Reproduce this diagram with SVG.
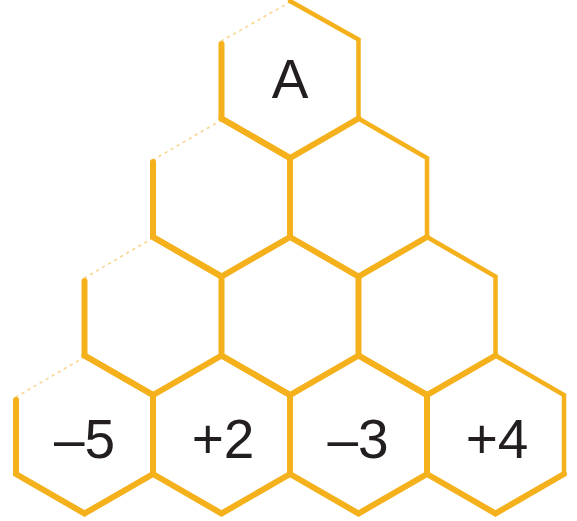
<svg xmlns="http://www.w3.org/2000/svg" width="577" height="521" viewBox="0 0 577 521">
<style>
.edge{fill:none;stroke:#F4B11C;stroke-width:6;stroke-linejoin:miter;stroke-linecap:round}
.thin{fill:none;stroke:#F4B11C;stroke-width:4.5;stroke-linecap:round}
.faint{fill:none;stroke:#F7CB72;stroke-width:1.6;stroke-dasharray:2 5;stroke-linecap:round;opacity:0.8}
.lbl{font-family:"Liberation Sans",Arial,Helvetica,sans-serif;font-size:55px;fill:#231F20;text-anchor:middle}
</style>
<rect width="577" height="521" fill="#ffffff"/>
<g id="edges">
<path class="faint" d="M221.5,41 L290,2"/>
<path class="faint" d="M153,160 L221.5,120"/>
<path class="faint" d="M84.5,278 L153,238"/>
<path class="faint" d="M16,397 L84.5,357"/>
</g>
<g id="hex-top">
<path class="edge" d="M221.5,44 L221.5,118.5 L290,158 L358.5,118.5"/>
<path class="thin" d="M290,1 L358.5,39.5 L358.5,118.5"/>
<text class="lbl" x="290" y="98">A</text>
</g>
<g id="hex-r2-1">
<path class="edge" d="M153,162 L153,237 L221.5,276.5 L290,237 L290,158 L221.5,118.5"/>
</g>
<g id="hex-r2-2">
<path class="edge" d="M290,237 L358.5,276.5 L427,237"/>
<path class="thin" d="M358.5,118.5 L427,158 L427,237"/>
</g>
<g id="hex-r3-1">
<path class="edge" d="M84.5,281 L84.5,355.5 L153,395 L221.5,355.5 L221.5,276.5 L153,237"/>
</g>
<g id="hex-r3-2">
<path class="edge" d="M221.5,355.5 L290,395 L358.5,355.5 L358.5,276.5"/>
</g>
<g id="hex-r3-3">
<path class="edge" d="M358.5,355.5 L427,395 L495.5,355.5"/>
<path class="thin" d="M427,237 L495.5,276.5 L495.5,355.5"/>
</g>
<g id="hex-b1">
<path class="edge" d="M16,400 L16,474 L84.5,513.5 L153,474 L153,395 L84.5,355.5"/>
<text class="lbl" x="84.5" y="458">–5</text>
</g>
<g id="hex-b2">
<path class="edge" d="M153,474 L221.5,513.5 L290,474 L290,395 L221.5,355.5"/>
<text class="lbl" x="223" y="458">+2</text>
</g>
<g id="hex-b3">
<path class="edge" d="M290,474 L358.5,513.5 L427,474 L427,395 L358.5,355.5"/>
<text class="lbl" x="358" y="458">–3</text>
</g>
<g id="hex-b4">
<path class="edge" d="M427,474 L495.5,513.5 L564,474"/>
<path class="thin" d="M495.5,355.5 L564,395 L564,474"/>
<text class="lbl" x="497" y="458">+4</text>
</g>
</svg>
